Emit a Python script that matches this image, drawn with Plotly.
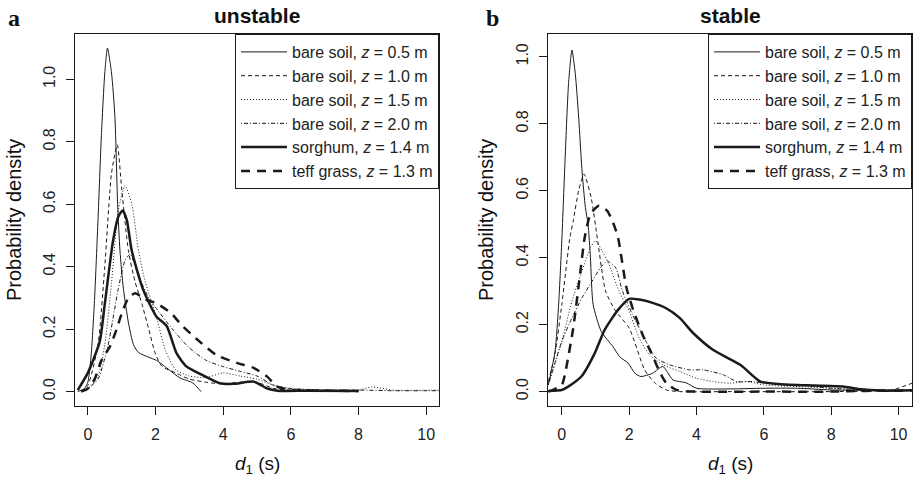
import plotly.graph_objects as go

# legend labels (same six series in both panels)
series_labels = [
    "bare soil, <i>z</i> = 0.5 m",
    "bare soil, <i>z</i> = 1.0 m",
    "bare soil, <i>z</i> = 1.5 m",
    "bare soil, <i>z</i> = 2.0 m",
    "sorghum, <i>z</i> = 1.4 m",
    "teff grass, <i>z</i> = 1.3 m",
]

# ---- panel a: unstable, d1 (s) and probability density
un_x_05 = [-0.3, -0.1, 0.0, 0.1, 0.2, 0.3, 0.4, 0.5, 0.58, 0.7, 0.8, 0.88, 0.95, 1.05, 1.2, 1.35, 1.5,
           1.8, 2.03, 2.33, 2.72, 3.1, 3.35]
un_y_05 = [0.0, 0.01, 0.03, 0.12, 0.3, 0.55, 0.82, 1.02, 1.1, 1.02, 0.88, 0.6, 0.45, 0.33, 0.22, 0.15, 0.125,
           0.11, 0.1, 0.076, 0.044, 0.028, 0.0]

un_x_10 = [-0.2, 0.0, 0.3, 0.5, 0.7, 0.87, 1.0, 1.2, 1.4, 1.6, 1.8, 2.0, 2.2, 2.6, 3.0, 3.5, 4.0, 4.5, 5.0,
           5.5, 6.0, 7.0]
un_y_10 = [0.0, 0.02, 0.15, 0.4, 0.7, 0.79, 0.65, 0.45, 0.35, 0.28, 0.2, 0.12, 0.08, 0.06, 0.04, 0.03, 0.025,
           0.03, 0.03, 0.01, 0.005, 0.003]

un_x_15 = [-0.2, 0.0, 0.3, 0.5, 0.7, 0.9, 1.1, 1.3, 1.5, 1.7, 2.0, 2.3, 2.6, 3.0, 3.5, 4.0, 4.5, 5.0, 5.5,
           6.0, 7.0, 8.0, 8.4, 9.0, 10.4]
un_y_15 = [0.0, 0.01, 0.05, 0.15, 0.35, 0.58, 0.66, 0.6, 0.45, 0.35, 0.25, 0.13, 0.07, 0.05, 0.045, 0.06, 0.05,
           0.04, 0.02, 0.01, 0.005, 0.005, 0.015, 0.005, 0.005]

un_x_20 = [-0.2, 0.0, 0.3, 0.6, 0.9, 1.1, 1.25, 1.5, 1.8, 2.0, 2.5, 3.0, 3.5, 4.0, 4.5, 5.0, 5.5, 6.0, 7.0,
           8.0, 9.0, 10.4]
un_y_20 = [0.0, 0.01, 0.04, 0.15, 0.33, 0.42, 0.44, 0.37, 0.3, 0.27, 0.2, 0.14, 0.1, 0.08, 0.065, 0.05, 0.02,
           0.01, 0.005, 0.005, 0.003, 0.003]

un_x_sorg = [-0.3, 0.0, 0.35, 0.5, 0.74, 0.9, 1.03, 1.15, 1.3, 1.64, 2.03, 2.33, 2.62, 2.92, 3.3, 3.9, 4.3,
             4.9, 5.3, 5.6, 6.5, 8.0]
un_y_sorg = [0.005, 0.06, 0.16, 0.28, 0.48, 0.56, 0.58, 0.55, 0.45, 0.325, 0.24, 0.21, 0.123, 0.08, 0.058,
             0.027, 0.025, 0.032, 0.01, 0.003, 0.003, 0.002]

un_x_teff = [-0.2, 0.0, 0.2, 0.4, 0.65, 0.85, 1.0, 1.2, 1.4, 1.7, 2.03, 2.47, 2.77, 3.2, 3.8, 4.4, 4.9, 5.3,
             5.6, 6.0, 7.0, 8.0]
un_y_teff = [0.0, 0.01, 0.04, 0.1, 0.144, 0.2, 0.25, 0.3, 0.315, 0.295, 0.283, 0.25, 0.213, 0.17, 0.117,
             0.092, 0.076, 0.048, 0.016, 0.005, 0.003, 0.002]

# ---- panel b: stable
st_x_05 = [-0.4, -0.2, -0.1, 0.0, 0.1, 0.2, 0.3, 0.4, 0.5, 0.6, 0.7, 0.78, 0.85, 0.93, 1.17, 1.52, 1.72,
           1.97, 2.17, 2.35, 2.7, 3.0, 3.3, 3.7, 4.0, 5.0, 6.0, 7.0, 8.0, 10.4]
st_y_05 = [0.02, 0.12, 0.25, 0.45, 0.7, 0.92, 1.02, 0.95, 0.82, 0.66, 0.55, 0.5, 0.4, 0.26, 0.18, 0.134,
           0.104, 0.085, 0.055, 0.045, 0.055, 0.075, 0.035, 0.026, 0.01, 0.008, 0.01, 0.01, 0.005, 0.003]

st_x_10 = [-0.4, -0.2, 0.0, 0.24, 0.34, 0.5, 0.66, 0.87, 1.08, 1.3, 1.6, 2.0, 2.46, 2.76, 3.1, 3.5, 5.0,
           8.0, 9.8, 10.4]
st_y_10 = [0.03, 0.115, 0.26, 0.46, 0.51, 0.6, 0.65, 0.58, 0.44, 0.3, 0.24, 0.19, 0.065, 0.026, 0.005, 0.0,
           0.0, 0.0, 0.005, 0.025]

st_x_15 = [-0.4, 0.0, 0.3, 0.6, 0.85, 1.0, 1.2, 1.4, 1.7, 2.0, 2.3, 2.6, 3.0, 3.5, 4.0, 4.5, 5.0, 5.5, 6.0,
           7.0, 8.0, 9.0, 10.4]
st_y_15 = [0.02, 0.15, 0.27, 0.36, 0.43, 0.45, 0.42, 0.38, 0.3, 0.24, 0.16, 0.11, 0.08, 0.06, 0.04, 0.03,
           0.025, 0.03, 0.02, 0.015, 0.01, 0.005, 0.005]

st_x_20 = [-0.4, 0.0, 0.3, 0.6, 0.9, 1.15, 1.35, 1.6, 1.8, 2.1, 2.5, 2.8, 3.2, 3.8, 4.2, 4.8, 5.2, 5.7, 6.0,
           7.0, 8.0, 9.0, 10.4]
st_y_20 = [0.02, 0.15, 0.22, 0.28, 0.33, 0.37, 0.39, 0.37, 0.3, 0.23, 0.15, 0.1, 0.08, 0.065, 0.065, 0.05,
           0.03, 0.03, 0.025, 0.02, 0.01, 0.005, 0.005]

st_x_sorg = [-0.4, 0.0, 0.19, 0.58, 0.98, 1.27, 1.67, 2.0, 2.3, 2.7, 3.1, 3.5, 3.9, 4.5, 5.3, 5.9, 6.5, 7.5,
             8.35, 8.8, 9.5, 10.4]
st_y_sorg = [0.002, 0.005, 0.015, 0.045, 0.115, 0.184, 0.244, 0.277, 0.275, 0.265, 0.249, 0.22, 0.175, 0.124,
             0.08, 0.03, 0.022, 0.018, 0.015, 0.008, 0.003, 0.004]

st_x_teff = [-0.4, 0.0, 0.1, 0.34, 0.53, 0.68, 0.85, 1.1, 1.35, 1.52, 1.67, 1.92, 2.12, 2.4, 2.66, 2.9, 3.1,
             3.4, 4.0, 6.0, 8.0, 9.0, 10.4]
st_y_teff = [0.0, 0.02, 0.055, 0.19, 0.34, 0.46, 0.53, 0.555, 0.54, 0.505, 0.46, 0.31, 0.244, 0.17, 0.115,
             0.06, 0.026, 0.005, 0.0, 0.0, 0.0, 0.002, 0.003]

unstable = [(un_x_05, un_y_05), (un_x_10, un_y_10), (un_x_15, un_y_15),
            (un_x_20, un_y_20), (un_x_sorg, un_y_sorg), (un_x_teff, un_y_teff)]
stable = [(st_x_05, st_y_05), (st_x_10, st_y_10), (st_x_15, st_y_15),
          (st_x_20, st_y_20), (st_x_sorg, st_y_sorg), (st_x_teff, st_y_teff)]

# line styles: thin solid / dashed / dotted / dot-dash, thick solid / thick dashed
styles = [
    dict(width=1, dash="solid"),
    dict(width=1, dash="4px,3px"),
    dict(width=1, dash="1px,2px"),
    dict(width=1, dash="1px,2px,4px,2px"),
    dict(width=2.5, dash="solid"),
    dict(width=2.5, dash="9px,7px"),
]

W, H = 913, 480
FONT = "Liberation Sans"
ink = "#1a1a1a"

fig = go.Figure()

for i, (xs, ys) in enumerate(unstable):
    fig.add_trace(go.Scatter(
        x=xs, y=ys, mode="lines", name=series_labels[i],
        line=dict(color=ink, shape="spline", smoothing=0.6, **styles[i]),
        xaxis="x", yaxis="y", legend="legend",
    ))

for i, (xs, ys) in enumerate(stable):
    fig.add_trace(go.Scatter(
        x=xs, y=ys, mode="lines", name=series_labels[i],
        line=dict(color=ink, shape="spline", smoothing=0.6, **styles[i]),
        xaxis="x2", yaxis="y2", legend="legend2",
    ))

# plot boxes in pixels -> paper fractions
ya0, ya1 = 1 - 406 / H, 1 - 34 / H
dom_a = [75 / W, 439 / W]
dom_b = [548 / W, 912 / W]

axis_common = dict(
    showline=True, mirror=True, linecolor=ink, linewidth=1,
    showgrid=False, zeroline=False, automargin=False,
    ticks="outside", ticklen=8, tickcolor=ink, tickwidth=1,
    tickfont=dict(family=FONT, size=16, color="#222"),
)
x_common = dict(tickvals=[0, 2, 4, 6, 8, 10], ticklabelstandoff=6, **axis_common)
y_common = dict(tickvals=[0, 0.2, 0.4, 0.6, 0.8, 1.0], tickformat=".1f", tickangle=-90,
                ticklabelstandoff=5, **axis_common)

legend_common = dict(
    xanchor="right", yanchor="top",
    bgcolor="white", bordercolor=ink, borderwidth=1,
    font=dict(family=FONT, size=16, color="#222"),
    itemwidth=46, tracegroupgap=0,
)

fig.update_layout(
    width=W, height=H,
    margin=dict(l=0, r=0, t=0, b=0, autoexpand=False),
    paper_bgcolor="white", plot_bgcolor="white",
    xaxis=dict(domain=dom_a, range=[-0.38, 10.38], anchor="y", **x_common),
    yaxis=dict(domain=[ya0, ya1], range=[-0.046, 1.145], anchor="x", **y_common),
    xaxis2=dict(domain=dom_b, range=[-0.41, 10.4], anchor="y2", **x_common),
    yaxis2=dict(domain=[ya0, ya1], range=[-0.043, 1.068], anchor="x2", **y_common),
    legend=dict(x=dom_a[1], y=ya1, **legend_common),
    legend2=dict(x=dom_b[1], y=ya1, **legend_common),
    showlegend=True,
)

notes = [
    dict(text="<b>unstable</b>", x=257 / W, y=1 - 15 / H, size=21, family=FONT, angle=0),
    dict(text="<b>stable</b>", x=730 / W, y=1 - 15 / H, size=21, family=FONT, angle=0),
    dict(text="<b>a</b>", x=14 / W, y=1 - 18 / H, size=24, family="Liberation Serif", angle=0),
    dict(text="<b>b</b>", x=492 / W, y=1 - 18 / H, size=24, family="Liberation Serif", angle=0),
    dict(text="Probability density", x=14 / W, y=1 - 220 / H, size=20, family=FONT, angle=-90),
    dict(text="Probability density", x=486 / W, y=1 - 220 / H, size=20, family=FONT, angle=-90),
    dict(text="<i>d</i><sub>1</sub> (s)", x=257 / W, y=1 - 465 / H, size=19, family=FONT, angle=0),
    dict(text="<i>d</i><sub>1</sub> (s)", x=730 / W, y=1 - 465 / H, size=19, family=FONT, angle=0),
]
for n in notes:
    fig.add_annotation(
        text=n["text"], x=n["x"], y=n["y"], xref="paper", yref="paper",
        xanchor="center", yanchor="middle", showarrow=False, textangle=n["angle"],
        font=dict(family=n["family"], size=n["size"], color="#111"),
    )

# the page body has a default 8px margin; drop it so the figure sits at the window origin
fig.write_html("out.html", config={"displayModeBar": False},
               post_script="document.body.style.margin='0';")
